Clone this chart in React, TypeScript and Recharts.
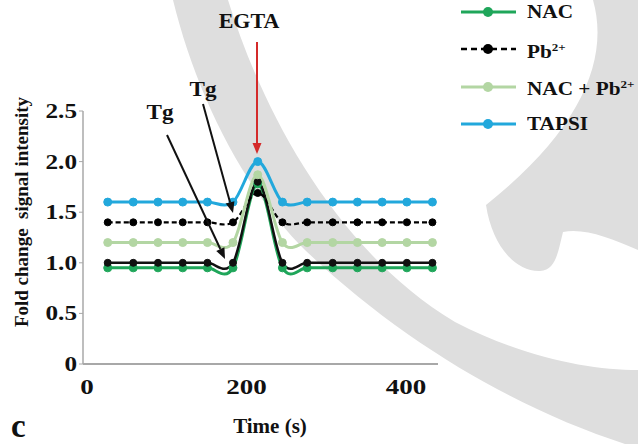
import React from "react";
import { LineChart, Line, XAxis, YAxis, Legend } from "recharts";

const SERIF = '"Liberation Serif", "Times New Roman", serif';

// time points (s) and fold change values
const times = [31, 63, 94, 125, 156, 188, 219, 250, 281, 313, 344, 375, 406, 438];
const nac = [0.95, 0.95, 0.95, 0.95, 0.95, 0.95, 1.78, 0.95, 0.95, 0.95, 0.95, 0.95, 0.95, 0.95];
const control = [1.0, 1.0, 1.0, 1.0, 1.0, 1.0, 1.8, 1.0, 1.0, 1.0, 1.0, 1.0, 1.0, 1.0];
const pb = [1.4, 1.4, 1.4, 1.4, 1.4, 1.4, 1.69, 1.4, 1.4, 1.4, 1.4, 1.4, 1.4, 1.4];
const nacPb = [1.2, 1.2, 1.2, 1.2, 1.2, 1.2, 1.87, 1.2, 1.2, 1.2, 1.2, 1.2, 1.2, 1.2];
const tapsi = [1.6, 1.6, 1.6, 1.6, 1.6, 1.6, 2.0, 1.6, 1.6, 1.6, 1.6, 1.6, 1.6, 1.6];

const xTicks = [0, 200, 400];
const yTicks = [0, 0.5, 1, 1.5, 2, 2.5];
const legendOrder = ["NAC", "Pb2+", "NAC + Pb2+", "TAPSI"];

const data = times.map((t, i) => ({
  t,
  nac: nac[i],
  ctrl: control[i],
  pb: pb[i],
  nacPb: nacPb[i],
  tapsi: tapsi[i],
}));

// Excel-style smoothed line (Catmull-Rom through every point)
function smooth(context: any) {
  let pts: number[][] = [];
  return {
    areaStart() {},
    areaEnd() {},
    lineStart() {
      pts = [];
    },
    point(x: number, y: number) {
      pts.push([+x, +y]);
    },
    lineEnd() {
      const n = pts.length;
      if (!n) return;
      context.moveTo(pts[0][0], pts[0][1]);
      const tan = (i: number) => {
        const a = pts[Math.max(0, i - 1)];
        const b = pts[Math.min(n - 1, i + 1)];
        return [(b[0] - a[0]) / 2, (b[1] - a[1]) / 2];
      };
      for (let i = 0; i < n - 1; i++) {
        const p = pts[i], q = pts[i + 1], m0 = tan(i), m1 = tan(i + 1);
        context.bezierCurveTo(p[0] + m0[0] / 3, p[1] + m0[1] / 3, q[0] - m1[0] / 3, q[1] - m1[1] / 3, q[0], q[1]);
      }
    },
  };
}

const labelFor = (v: string) => {
  if (v === "Pb2+") return <>Pb<sup style={{ fontSize: 11 }}>2+</sup></>;
  if (v === "NAC + Pb2+") return <>NAC + Pb<sup style={{ fontSize: 11 }}>2+</sup></>;
  return v;
};

function renderLegend(props: any) {
  const items = (props.payload || [])
    .filter((e: any) => e.type !== "none")
    .sort((a: any, b: any) => legendOrder.indexOf(a.value) - legendOrder.indexOf(b.value));
  return (
    <div style={{ fontFamily: SERIF, fontWeight: 700, fontSize: 18, color: "#111" }}>
      {items.map((e: any, i: number) => {
        const dashed = !!(e.payload && e.payload.strokeDasharray);
        return (
          <div key={i} style={{ display: "flex", alignItems: "center", height: 37.5 }}>
            <svg width={58} height={14}>
              <line x1={1} y1={7} x2={56} y2={7} stroke={e.color} strokeWidth={dashed ? 2.5 : 3} strokeDasharray={dashed ? "6 4" : undefined} />
              <circle cx={28} cy={7} r={5} fill={e.color} />
            </svg>
            <span style={{ marginLeft: 9, display: "inline-block", transform: "scaleX(1.18)", transformOrigin: "left center", whiteSpace: "pre", lineHeight: "18px" }}>
              {labelFor(e.value)}
            </span>
          </div>
        );
      })}
    </div>
  );
}

const YTick = (p: any) => (
  <text
    transform={`translate(${p.x} ${p.y + 7}) scale(1.2 1)`}
    textAnchor="end"
    fontFamily={SERIF}
    fontWeight={700}
    fontSize={21}
    fill="#111"
  >
    {p.payload.value === 0 ? "0" : p.payload.value.toFixed(1)}
  </text>
);

const XTick = (p: any) => (
  <text
    transform={`translate(${p.x + 4} ${p.y + 22}) scale(1.35 1)`}
    textAnchor="middle"
    fontFamily={SERIF}
    fontWeight={700}
    fontSize={20}
    fill="#111"
  >
    {p.payload.value}
  </text>
);

function Arrow({ x1, y1, x2, y2, color, w = 2, head = 11 }: any) {
  const dx = x2 - x1, dy = y2 - y1;
  const len = Math.hypot(dx, dy);
  const ux = dx / len, uy = dy / len;
  const bx = x2 - ux * head, by = y2 - uy * head;
  const px = -uy * 4.5, py = ux * 4.5;
  return (
    <g>
      <line x1={x1} y1={y1} x2={bx} y2={by} stroke={color} strokeWidth={w} />
      <polygon points={`${x2},${y2} ${bx + px},${by + py} ${bx - px},${by - py}`} fill={color} />
    </g>
  );
}

const txt = { fontFamily: SERIF, fontWeight: 700, fill: "#111" } as const;

export default function App() {
  return (
    <div style={{ position: "absolute", left: 0, top: 0, width: 638, height: 444, background: "#fff", overflow: "hidden" }}>
      <svg width={638} height={444} style={{ position: "absolute", left: 0, top: 0 }}>
        <path
          d="M173,0 L228,0 C262,110 335,250 455,322 C525,358 590,370 638,370 L638,444 L625,444 C520,410 405,345 305,250 C240,185 195,90 173,0 Z"
          fill="#dedede"
        />
        <path
          d="M593,0 L638,0 L638,250 C610,238 585,228 563,232 C558,252 556,270 540,271 C515,272 492,245 486,205 C580,130 610,60 593,0 Z"
          fill="#dedede"
        />
      </svg>
      <div style={{ position: "absolute", left: 0, top: 0 }}>
        <LineChart width={638} height={444} data={data} margin={{ top: 111, right: 200, bottom: 40, left: 23 }}>
          <XAxis
            dataKey="t"
            type="number"
            domain={[0, 445]}
            ticks={xTicks}
            tick={<XTick />}
            tickLine={false}
            tickSize={6}
            height={40}
            axisLine={{ stroke: "#a8a8a8", strokeWidth: 2 }}
          />
          <YAxis
            type="number"
            domain={[0, 2.5]}
            ticks={yTicks}
            tick={<YTick />}
            tickSize={4}
            tickMargin={2}
            width={60}
            tickLine={{ stroke: "#a8a8a8" }}
            axisLine={{ stroke: "#a8a8a8", strokeWidth: 1.5 }}
          />
          <Legend
            layout="vertical"
            align="center"
            verticalAlign="middle"
            content={renderLegend}
            wrapperStyle={{ left: 460, top: -7, width: 178 }}
          />
          <Line
            name="NAC"
            dataKey="nac"
            type={smooth as any}
            stroke="#1fa65a"
            strokeWidth={3}
            dot={{ r: 4, fill: "#1fa65a", stroke: "#1fa65a", strokeWidth: 1 }}
            isAnimationActive={false}
          />
          <Line
            name="Control"
            dataKey="ctrl"
            type={smooth as any}
            stroke="#111"
            strokeWidth={2.5}
            legendType="none"
            dot={{ r: 3.5, fill: "#111", stroke: "#111", strokeWidth: 1 }}
            isAnimationActive={false}
          />
          <Line
            name="Pb2+"
            dataKey="pb"
            type={smooth as any}
            stroke="#000"
            strokeWidth={2.2}
            strokeDasharray="5 3"
            dot={{ r: 3.5, fill: "#000", stroke: "#000", strokeWidth: 1, strokeDasharray: "none" }}
            isAnimationActive={false}
          />
          <Line
            name="NAC + Pb2+"
            dataKey="nacPb"
            type={smooth as any}
            stroke="#b3d6a3"
            strokeWidth={3}
            dot={{ r: 4, fill: "#b3d6a3", stroke: "#b3d6a3", strokeWidth: 1 }}
            isAnimationActive={false}
          />
          <Line
            name="TAPSI"
            dataKey="tapsi"
            type={smooth as any}
            stroke="#22a8dc"
            strokeWidth={3}
            dot={{ r: 4, fill: "#22a8dc", stroke: "#22a8dc", strokeWidth: 1 }}
            isAnimationActive={false}
          />
        </LineChart>
      </div>
      <svg width={638} height={444} style={{ position: "absolute", left: 0, top: 0, pointerEvents: "none" }}>
        <text transform="translate(249 28) scale(1.1 1)" textAnchor="middle" fontSize={20} {...txt}>EGTA</text>
        <Arrow x1={257} y1={42} x2={257} y2={154} color="#d42a2a" />
        <text transform="translate(203 96) scale(1.1 1)" textAnchor="middle" fontSize={21} {...txt}>Tg</text>
        <Arrow x1={203} y1={104} x2={233} y2={213} color="#111" />
        <text transform="translate(160 119) scale(1.1 1)" textAnchor="middle" fontSize={21} {...txt}>Tg</text>
        <Arrow x1={167} y1={135} x2={225} y2={259} color="#111" />
        <text transform="translate(28 212) rotate(-90)" textAnchor="middle" fontSize={19} style={{ whiteSpace: "pre" }} {...txt}>
          {"Fold change  signal intensity"}
        </text>
        <text x={270} y={433} textAnchor="middle" fontSize={21} {...txt}>Time (s)</text>
        <text x={11} y={437} fontSize={33} {...txt}>c</text>
      </svg>
    </div>
  );
}
